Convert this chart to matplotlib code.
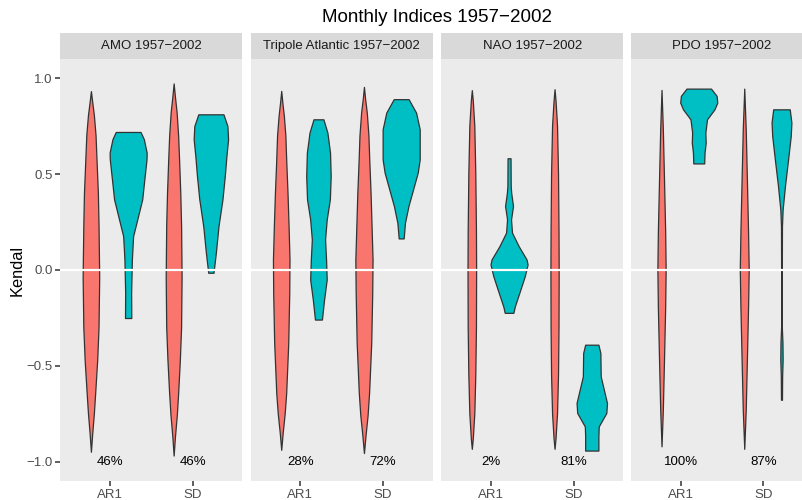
import matplotlib
matplotlib.use('Agg')
import matplotlib.pyplot as plt

plt.rcParams['font.family'] = ['Liberation Sans', 'DejaVu Sans']

# facets and categories
facets = ['AMO 1957\u22122002', 'Tripole Atlantic 1957\u22122002',
          'NAO 1957\u22122002', 'PDO 1957\u22122002']
categories = ['AR1', 'SD']
pct_labels = [['46%', '46%'], ['28%', '72%'], ['2%', '81%'], ['100%', '87%']]

# violin profiles: y values and half widths (x units)
# red = first group, cyan = second group
amo_ar1_red_y = [0.93, 0.873, 0.804, 0.70, 0.57, 0.40, 0.23, -0.04, -0.30, -0.47, -0.64, -0.748, -0.853, -0.95]
amo_ar1_red_w = [0, .016, .036, .056, .068, .084, .092, .100, .092, .076, .052, .036, .016, 0]
amo_sd_red_y = [0.97, 0.90, 0.82, 0.70, 0.57, 0.40, 0.23, -0.04, -0.30, -0.47, -0.64, -0.76, -0.87, -0.97]
amo_sd_red_w = [0, .016, .036, .054, .066, .08, .09, .096, .09, .075, .055, .038, .016, 0]
amo_ar1_cyan_y = [.717, .679, .609, .574, .487, .366, .261, .174, .052, -.122, -.253]
amo_ar1_cyan_w = [.15, .19, .224, .222, .20, .17, .11, .06, .045, .036, .038]
amo_sd_cyan_y = [.809, .748, .679, .592, .487, .366, .226, .087, -.017]
amo_sd_cyan_w = [.152, .20, .208, .188, .168, .14, .092, .06, .032]

tri_ar1_red_y = [.931, .87, .80, .70, .574, .40, .226, .052, -.122, -.383, -.644, -.75, -.85, -.94]
tri_ar1_red_w = [0, .014, .032, .05, .06, .076, .089, .10, .097, .085, .06, .042, .018, 0]
tri_sd_red_y = [.952, .89, .82, .70, .574, .40, .226, .052, -.122, -.383, -.644, -.76, -.87, -.957]
tri_sd_red_w = [0, .014, .034, .054, .064, .08, .092, .104, .10, .088, .062, .044, .018, 0]
tri_ar1_cyan_y = [.783, .714, .609, .487, .366, .261, .157, .052, -.052, -.157, -.261]
tri_ar1_cyan_w = [.06, .108, .14, .148, .138, .10, .08, .092, .10, .068, .042]
tri_sd_cyan_y = [.888, .818, .731, .574, .505, .418, .331, .244, .162]
tri_sd_cyan_w = [.09, .18, .224, .224, .20, .144, .088, .046, .03]

nao_ar1_red_y = [.935, .88, .75, .50, .20, 0, -.30, -.55, -.75, -.88, -.935]
nao_ar1_red_w = [0, .012, .03, .042, .05, .052, .05, .042, .03, .012, 0]
nao_sd_red_y = [.94, .88, .75, .50, .20, 0, -.30, -.55, -.75, -.88, -.935]
nao_sd_red_w = [0, .012, .03, .042, .048, .05, .048, .042, .03, .012, 0]
nao_ar1_cyan_y = [.58, .435, .40, .331, .261, .192, .122, .052, .026, -.035, -.122, -.192, -.226]
nao_ar1_cyan_w = [.018, .02, .026, .048, .024, .036, .116, .212, .224, .19, .124, .07, .052]
nao_sd_cyan_y = [-.392, -.435, -.557, -.696, -.748, -.818, -.870, -.944]
nao_sd_cyan_w = [.08, .104, .108, .184, .176, .084, .08, .08]

pdo_ar1_red_y = [.936, .73, .47, .20, 0, -.20, -.47, -.73, -.922]
pdo_ar1_red_w = [0, .016, .03, .044, .05, .044, .03, .016, 0]
pdo_sd_red_y = [.943, .73, .47, .20, 0, -.20, -.47, -.73, -.935]
pdo_sd_red_w = [0, .018, .032, .046, .054, .046, .032, .018, 0]
pdo_ar1_cyan_y = [.943, .905, .87, .835, .783, .714, .661, .609, .553]
pdo_ar1_cyan_w = [.148, .216, .224, .19, .10, .08, .084, .07, .066]
pdo_sd_cyan_y = [.835, .766, .696, .574, .435, .313, .226, -.035, -.296, -.383, -.47, -.557, -.679]
pdo_sd_cyan_w = [.10, .12, .112, .08, .042, .014, .006, .004, .004, .012, .014, .008, .006]

red_profiles = [
    [(amo_ar1_red_y, amo_ar1_red_w), (amo_sd_red_y, amo_sd_red_w)],
    [(tri_ar1_red_y, tri_ar1_red_w), (tri_sd_red_y, tri_sd_red_w)],
    [(nao_ar1_red_y, nao_ar1_red_w), (nao_sd_red_y, nao_sd_red_w)],
    [(pdo_ar1_red_y, pdo_ar1_red_w), (pdo_sd_red_y, pdo_sd_red_w)],
]
cyan_profiles = [
    [(amo_ar1_cyan_y, amo_ar1_cyan_w), (amo_sd_cyan_y, amo_sd_cyan_w)],
    [(tri_ar1_cyan_y, tri_ar1_cyan_w), (tri_sd_cyan_y, tri_sd_cyan_w)],
    [(nao_ar1_cyan_y, nao_ar1_cyan_w), (nao_sd_cyan_y, nao_sd_cyan_w)],
    [(pdo_ar1_cyan_y, pdo_ar1_cyan_w), (pdo_sd_cyan_y, pdo_sd_cyan_w)],
]

RED = '#F8766D'
CYAN = '#00BFC4'
EDGE = '#333333'


def draw_violin(ax, xc, ys, ws, color):
    xs = [xc + w for w in ws] + [xc - w for w in ws[::-1]]
    yy = list(ys) + list(ys[::-1])
    ax.fill(xs, yy, facecolor=color, edgecolor=EDGE, linewidth=0.9,
            joinstyle='round', zorder=2)


W, H = 803, 500
fig = plt.figure(figsize=(W / 100, H / 100), dpi=100)

panel_left = [60.4, 250.7, 441.3, 631.0]
panel_w = 182.0
panel_top, panel_bot = 59.0, 481.0
strip_top = 33.0

for i, name in enumerate(facets):
    ax = fig.add_axes([panel_left[i] / W, 1 - panel_bot / H,
                       panel_w / W, (panel_bot - panel_top) / H])
    ax.set_facecolor('#EBEBEB')
    for s in ax.spines.values():
        s.set_visible(False)

    for j, cat in enumerate(categories):
        pos = j + 1
        ys, ws = red_profiles[i][j]
        draw_violin(ax, pos - 0.225, ys, ws, RED)
        ys, ws = cyan_profiles[i][j]
        draw_violin(ax, pos + 0.225, ys, ws, CYAN)
        ax.text(pos, -1.0, pct_labels[i][j], ha='center', va='center',
                fontsize=9.5, color='black', zorder=4)

    ax.axhline(0, color='white', linewidth=1.6, zorder=3)

    ax.set_xlim(0.4, 2.6)
    ax.set_ylim(-1.1, 1.1)
    ax.set_xticks([1, 2])
    ax.set_xticklabels(categories)
    ax.tick_params(axis='x', length=3.5, width=1.1, color='#333333',
                   labelsize=9.5, labelcolor='#4D4D4D', pad=2)
    if i == 0:
        ax.set_yticks([-1.0, -0.5, 0.0, 0.5, 1.0])
        ax.set_yticklabels(['\u22121.0', '\u22120.5', '0.0', '0.5', '1.0'])
        ax.tick_params(axis='y', length=3.5, width=1.1, color='#333333',
                       labelsize=9.5, labelcolor='#4D4D4D', pad=2)
        ax.set_ylabel('Kendal', fontsize=11.8, color='black', labelpad=1)
    else:
        ax.set_yticks([])

    # facet strip
    sax = fig.add_axes([panel_left[i] / W, 1 - panel_top / H,
                        panel_w / W, (panel_top - strip_top) / H])
    sax.set_facecolor('#D9D9D9')
    sax.set_xticks([])
    sax.set_yticks([])
    for s in sax.spines.values():
        s.set_visible(False)
    sax.text(0.5, 0.5, name, ha='center', va='center', fontsize=9.5,
             color='#1A1A1A', transform=sax.transAxes)

fig.text((60.4 + 631.0 + panel_w) / 2 / W, 1 - 17.5 / H,
         'Monthly Indices 1957\u22122002', ha='center', va='center',
         fontsize=13.5, color='black')

fig.savefig('out.png', dpi=100)
